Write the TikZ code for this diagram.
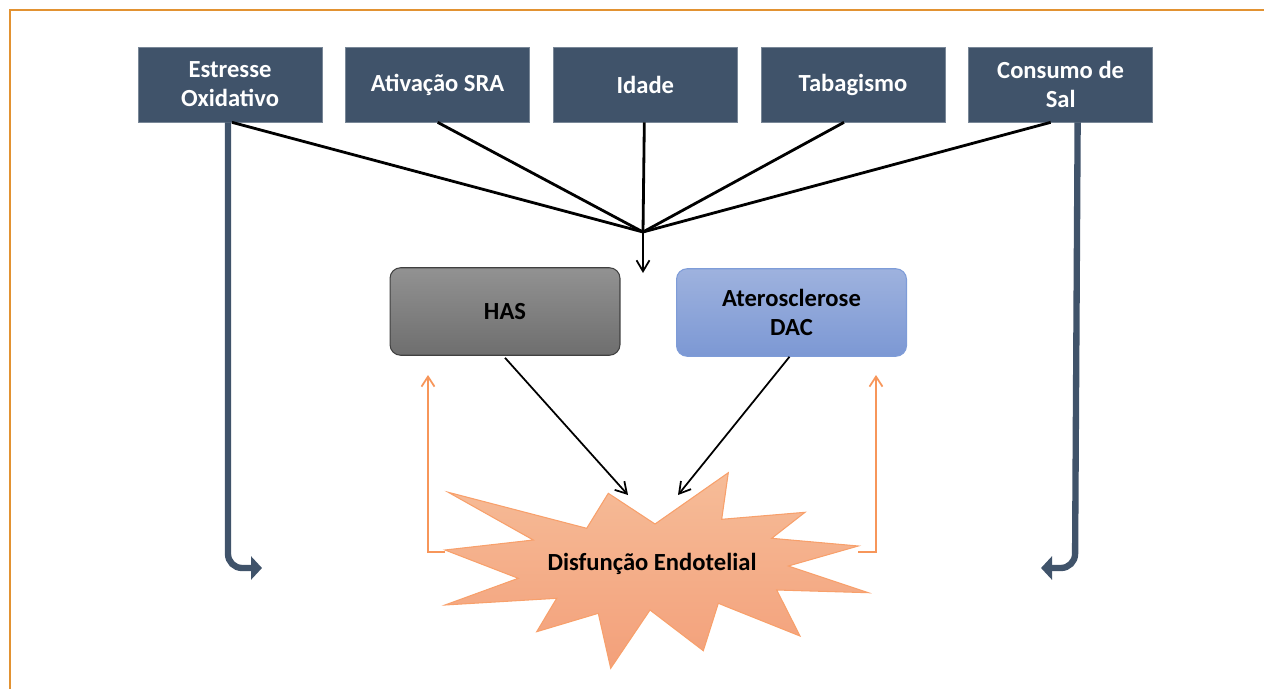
\documentclass[tikz,border=0pt]{standalone}
\usepackage{fontspec}
\setmainfont{Carlito}
\usetikzlibrary{positioning}
\usetikzlibrary{arrows.meta}
\usetikzlibrary{calc}
\definecolor{corFator}{RGB}{64,83,106}
\definecolor{corMoldura}{RGB}{226,146,50}
\definecolor{corLaranja}{RGB}{247,150,90}
\definecolor{corCinzaTopo}{RGB}{146,146,146}
\definecolor{corCinzaBase}{RGB}{110,110,110}
\definecolor{corAzulTopo}{RGB}{158,178,222}
\definecolor{corAzulBase}{RGB}{124,152,212}
\definecolor{corAzulBorda}{RGB}{126,156,216}
\definecolor{corEstrelaTopo}{RGB}{246,188,152}
\definecolor{corEstrelaBase}{RGB}{243,160,122}
\tikzset{
  fator/.style={
    rectangle, fill=corFator, draw=corFator!70!white, line width=0.4pt,
    minimum width=3.68cm, minimum height=1.5cm, inner sep=2pt,
    align=center, text=white, font=\fontsize{14}{16.5}\selectfont\bfseries
  },
  caixa/.style={
    rectangle, rounded corners=6pt, line width=0.6pt,
    minimum width=4.6cm, minimum height=1.75cm,
    align=center, font=\fontsize{14}{16.5}\selectfont\bfseries
  },
  seta/.style={-{Straight Barb[length=2.2mm,width=2.6mm]}, line width=1pt, draw=black},
  ligacao/.style={line width=1.6pt, draw=black},
  setal/.style={-{Straight Barb[length=2mm,width=2.6mm]}, line width=1pt, draw=corLaranja},
  setag/.style={-{Triangle[length=2.2mm,width=4.6mm]}, line width=3.6pt, draw=corFator, rounded corners=8pt}
}
\begin{document}
\begin{tikzpicture}[x=0.02cm, y=-0.02cm, node distance=0.46cm]
  \useasboundingbox (0,0) rectangle (1264,689);
  % moldura
  \draw[corMoldura, line width=1.5pt] (10,689) -- (10,10) -- (1264,10);

  % fatores de risco
  \node[fator] (estresse) at (230,84.5) {Estresse\\Oxidativo};
  \node[fator, right=of estresse] (sra) {Ativação SRA};
  \node[fator, right=of sra] (idade) {Idade};
  \node[fator, right=of idade] (tabaco) {Tabagismo};
  \node[fator, right=of tabaco] (sal) {Consumo de\\Sal};

  \coordinate (juncao) at (643,232);
  \coordinate (alvo) at (643,273);
  \foreach \f/\dx in {estresse/2,sra/0,idade/-1,tabaco/-9,sal/-10}
    \draw[ligacao] ($(\f.south)+(\dx,0)$) -- (juncao);
  \draw[seta] (juncao) -- (alvo);

  % HAS e DAC
  \node[caixa, top color=corCinzaTopo, bottom color=corCinzaBase, draw=black!75] (has) at (505,311.5) {HAS};
  \node[caixa, top color=corAzulTopo, bottom color=corAzulBase, draw=corAzulBorda] (dac) at (791.5,312.5) {Aterosclerose\\DAC};

  % estrela
  \shade[top color=corEstrelaTopo, bottom color=corEstrelaBase, draw=corLaranja!90!white, line width=0.6pt]
    (448.3,492.3) -- (586.7,528.3) -- (608.3,493.3) -- (655,524) -- (728.3,472.7) -- (721.7,519.3)
    -- (805,512.3) -- (771.7,538.3) -- (858.3,546) -- (788.3,566) -- (868.3,592.7) -- (776.7,590)
    -- (800,636) -- (718.3,603.3) -- (703.3,650.7) -- (650,610) -- (610.7,668.3) -- (598.3,613.3)
    -- (536.7,631.7) -- (556.7,598.3) -- (445,605) -- (518.3,578.3) -- (445,550) -- (533.3,540) -- cycle;
  \node[font=\fontsize{14}{16.5}\selectfont\bfseries] (disf) at (652,564) {Disfunção Endotelial};

  \coordinate (chegaHas) at (628,495);
  \coordinate (chegaDac) at (678,495);
  \draw[seta] ($(has.south)+(0,2)$) -- (chegaHas);
  \draw[seta] ($(dac.south)+(-2,0)$) -- (chegaDac);

  % retorno
  \coordinate (pontaEsq) at (445,552);
  \coordinate (pontaDir) at (858,552);
  \draw[setal] (pontaEsq) -- (428,552) -- (428,375);
  \draw[setal] (pontaDir) -- (876,552) -- (876,375);

  % setas grossas
  \draw[setag] ($(estresse.south)+(-2,0)$) -- (228,568) -- (262,568);
  \draw[setag] ($(sal.south)+(17,0)$) -- (1075,568) -- (1041,568);
\end{tikzpicture}
\end{document}
